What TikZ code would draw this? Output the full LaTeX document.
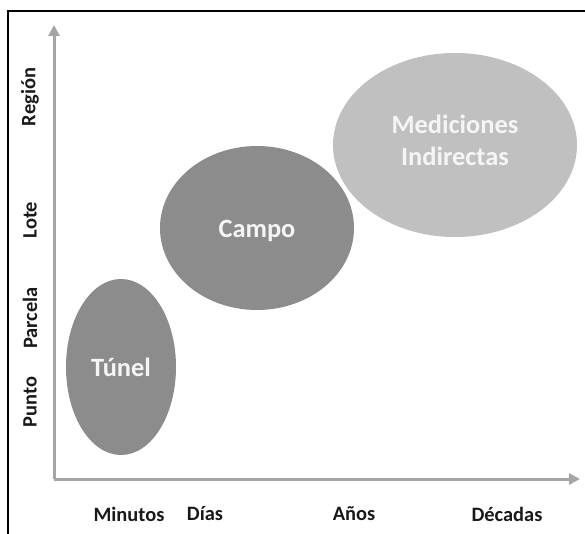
\documentclass[tikz,border=0pt]{standalone}
\usepackage{fontspec}
\setmainfont{Carlito}
\usetikzlibrary{arrows.meta}
\definecolor{axisgray}{RGB}{165,165,165}
\definecolor{midgray}{RGB}{140,140,140}
\definecolor{lightgray2}{RGB}{192,192,192}
\definecolor{txtwhite}{RGB}{245,245,245}
\tikzset{
  blobtext/.style={text=txtwhite, font=\bfseries\fontsize{26.5}{32}\selectfont, align=center},
  axlabel/.style={font=\bfseries\fontsize{20.5}{24}\selectfont, text=black!90},
  axline/.style={draw=axisgray, line width=3bp, -{Triangle[length=11bp,width=11bp]}}
}
\begin{document}
\begin{tikzpicture}[x=1bp,y=-1bp]
\useasboundingbox (0,0) rectangle (585,534);
\fill[white] (0,0) rectangle (585,534);
% frame
\coordinate (fbl) at (8,534);
\coordinate (ftl) at (8,11);
\coordinate (ftr) at (585,11);
\draw[black, line width=1.5bp] (fbl) -- (ftl) -- (ftr);
% ellipses
\fill[midgray] (121,367) ellipse [x radius=55, y radius=88];
\fill[midgray] (257,228) ellipse [x radius=97, y radius=82];
\fill[lightgray2] (455,145) ellipse [x radius=122, y radius=92];
\node[blobtext] (tunel) at (121,367) {Túnel};
\node[blobtext] (campo) at (257,231) {Campo};
\node[blobtext] (medic) at (455,140) {Mediciones\\Indirectas};
% axes
\coordinate (origin) at (54,479);
\coordinate (ytop) at (54,25);
\coordinate (xend) at (580,479);
\draw[axline, line cap=butt] (origin) -- (ytop);
\draw[axline] (origin) -- (xend);
% axis labels
\node[axlabel] (minutos) at (129,514) {Minutos};
\node[axlabel] (dias) at (205,514) {Días};
\node[axlabel] (anos) at (354,514) {Años};
\node[axlabel] (decadas) at (507,514) {Décadas};
\node[axlabel, rotate=90] (punto) at (30,402) {Punto};
\node[axlabel, rotate=90] (parcela) at (30,318) {Parcela};
\node[axlabel, rotate=90] (lote) at (30,220) {Lote};
\node[axlabel, rotate=90] (region) at (30,97) {Región};
\end{tikzpicture}
\end{document}
